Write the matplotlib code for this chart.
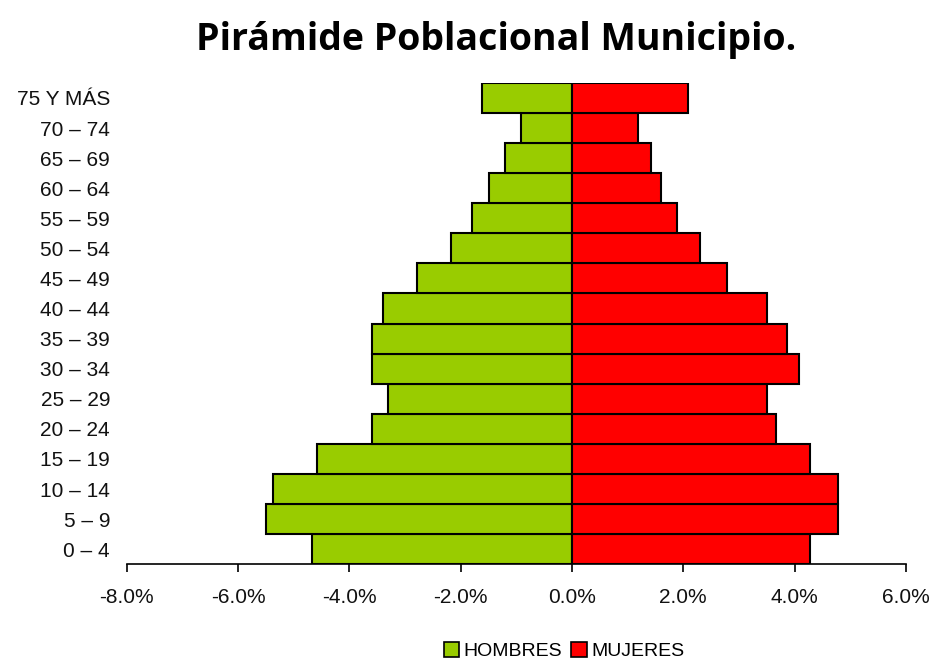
import matplotlib.pyplot as plt
import numpy as np
from matplotlib.patches import Patch
from matplotlib.ticker import FuncFormatter

grupos = ['0 – 4', '5 – 9', '10 – 14', '15 – 19', '20 – 24', '25 – 29', '30 – 34',
          '35 – 39', '40 – 44', '45 – 49', '50 – 54', '55 – 59', '60 – 64',
          '65 – 69', '70 – 74', '75 Y MÁS']
hombres = [4.68, 5.50, 5.38, 4.59, 3.60, 3.31, 3.60, 3.60, 3.40, 2.79, 2.18,
           1.80, 1.49, 1.21, 0.92, 1.62]
mujeres = [4.28, 4.78, 4.78, 4.28, 3.67, 3.51, 4.08, 3.87, 3.51, 2.79, 2.30,
           1.89, 1.60, 1.42, 1.19, 2.09]
xticks = [-8, -6, -4, -2, 0, 2, 4, 6]

verde = '#99CC00'
rojo = '#FF0000'

fig = plt.figure(figsize=(9.32, 6.63), dpi=100)
ax = fig.add_axes([0.136, 0.149, 0.836, 0.726])

y = np.arange(len(grupos))
ax.barh(y, [-h for h in hombres], height=1.0, color=verde, edgecolor='black', linewidth=1.5)
ax.barh(y, mujeres, height=1.0, color=rojo, edgecolor='black', linewidth=1.5)

ax.set_xlim(-8, 6)
ax.set_ylim(-0.5, len(grupos) - 0.5)
ax.set_xticks(xticks)
ax.xaxis.set_major_formatter(FuncFormatter(lambda v, p: '%.1f%%' % v))
ax.set_yticks(y)
ax.set_yticklabels(grupos)

for s in ['top', 'right', 'left']:
    ax.spines[s].set_visible(False)
ax.spines['bottom'].set_linewidth(1.2)
ax.tick_params(axis='x', length=6, width=1.2, pad=11, labelsize=15, labelcolor='#111111')
ax.tick_params(axis='y', length=0, pad=12, labelsize=15, labelcolor='#111111')
for lab in ax.get_xticklabels() + ax.get_yticklabels():
    lab.set_family('Liberation Sans')

fig.text(0.532, 0.94, 'Pirámide Poblacional Municipio.', ha='center', va='center',
         fontsize=27, fontweight='bold', family='Open Sans')

handles = [Patch(facecolor=verde, edgecolor='black', linewidth=1.2, label='HOMBRES'),
           Patch(facecolor=rojo, edgecolor='black', linewidth=1.2, label='MUJERES')]
fig.legend(handles=handles, loc='center', bbox_to_anchor=(0.605, 0.018), ncol=2, frameon=False,
           prop={'family': 'Liberation Sans', 'size': 14}, handlelength=0.8, handleheight=0.8,
           handletextpad=0.2, columnspacing=0.5)

fig.savefig('out.png', dpi=100)
